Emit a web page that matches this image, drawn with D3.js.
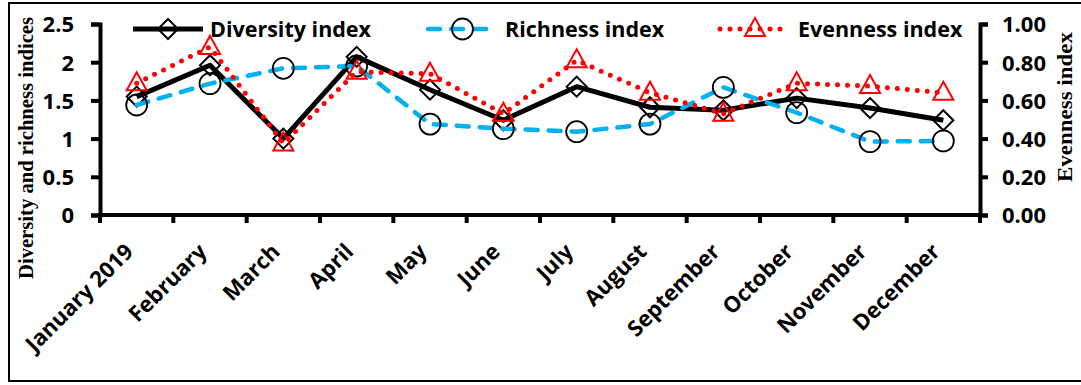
<!DOCTYPE html>
<html>
<head>
<meta charset="utf-8">
<script src="https://cdn.jsdelivr.net/npm/d3@7"></script>
<style>
  html, body { margin: 0; padding: 0; background: #fff; }
  svg { display: block; }
</style>
</head>
<body>
<svg id="chart" width="1081" height="385"></svg>
<script>
// Monthly indices, 2019
const months = ["January 2019", "February", "March", "April", "May", "June",
                "July", "August", "September", "October", "November", "December"];
const diversity = [1.55, 1.96, 1.00, 2.07, 1.64, 1.24, 1.68, 1.41, 1.37, 1.53, 1.40, 1.24];
const richness  = [1.44, 1.72, 1.92, 1.95, 1.19, 1.13, 1.09, 1.19, 1.67, 1.34, 0.96, 0.97];
const evenness  = [0.69, 0.88, 0.375, 0.75, 0.74, 0.53, 0.81, 0.64, 0.53, 0.69, 0.675, 0.64];
const leftTicks  = [0, 0.5, 1, 1.5, 2, 2.5];
const rightTicks = [0, 0.2, 0.4, 0.6, 0.8, 1.0];

const svg = d3.select("#chart");
const plot = { left: 100, right: 980, top: 24, bottom: 215 };
const sans = "'Open Sans', 'Noto Sans', sans-serif";
const serif = "'Liberation Serif', 'Times New Roman', serif";

// outer frame
svg.append("rect")
  .attr("x", 9).attr("y", 3).attr("width", 1085).attr("height", 378)
  .attr("fill", "none").attr("stroke", "#000").attr("stroke-width", 2);

const x = d3.scaleBand().domain(months).range([plot.left, plot.right]).padding(0);
const yL = d3.scaleLinear().domain([0, 2.5]).range([plot.bottom, plot.top]);
const yR = d3.scaleLinear().domain([0, 1]).range([plot.bottom, plot.top]);
const cx = m => x(m) + x.bandwidth() / 2;

const axisStyle = g => {
  g.selectAll(".domain").attr("stroke", "#000").attr("stroke-width", 4);
  g.selectAll(".tick line").attr("stroke", "#000").attr("stroke-width", 4);
};

// x axis: ticks at band boundaries, labels at band centres
const xg = svg.append("g").attr("transform", `translate(0,${plot.bottom})`);
xg.append("line")
  .attr("x1", plot.left - 2).attr("x2", plot.right + 2)
  .attr("stroke", "#000").attr("stroke-width", 4);
const bounds = months.map(m => x(m)).concat([plot.right]);
xg.selectAll("line.tk").data(bounds).join("line").attr("class", "tk")
  .attr("x1", d => d).attr("x2", d => d).attr("y1", 0).attr("y2", 8)
  .attr("stroke", "#000").attr("stroke-width", 4);
xg.selectAll("text").data(months).join("text")
  .attr("transform", d => `translate(${cx(d) - 2},${38}) rotate(-45)`)
  .attr("text-anchor", "end")
  .attr("font-family", sans).attr("font-weight", 700).attr("font-size", 22)
  .attr("fill", "#000")
  .text(d => d);

// left axis
const gl = svg.append("g").attr("transform", `translate(${plot.left},0)`)
  .call(d3.axisLeft(yL).tickValues(leftTicks).tickSize(9).tickSizeOuter(9)
        .tickPadding(17).tickFormat(d3.format("")));
axisStyle(gl);
gl.selectAll("text").attr("font-family", sans).attr("font-weight", 700)
  .attr("font-size", 22).attr("fill", "#000").attr("dy", "0.36em");

// right axis
const gr = svg.append("g").attr("transform", `translate(${plot.right},0)`)
  .call(d3.axisRight(yR).tickValues(rightTicks).tickSize(8).tickSizeOuter(8)
        .tickPadding(14).tickFormat(d3.format(".2f")));
axisStyle(gr);
gr.selectAll("text").attr("font-family", sans).attr("font-weight", 700)
  .attr("font-size", 22).attr("fill", "#000").attr("dy", "0.36em");

// axis titles
svg.append("text")
  .attr("transform", `translate(26,148) rotate(-90)`)
  .attr("text-anchor", "middle").attr("dy", "0.35em")
  .attr("font-family", serif).attr("font-weight", 700).attr("font-size", 21)
  .attr("textLength", 262).attr("lengthAdjust", "spacingAndGlyphs")
  .text("Diversity and richness indices");
svg.append("text")
  .attr("transform", `translate(1065,107) rotate(-90)`)
  .attr("text-anchor", "middle").attr("dy", "0.35em")
  .attr("font-family", serif).attr("font-weight", 700).attr("font-size", 21)
  .attr("textLength", 150).attr("lengthAdjust", "spacingAndGlyphs")
  .text("Evenness index");

// marker painters
const diamond = (g, px, py) => g.append("path")
  .attr("d", `M${px},${py - 10}L${px + 10},${py}L${px},${py + 10}L${px - 10},${py}Z`)
  .attr("fill", "none").attr("stroke", "#000").attr("stroke-width", 2);
const circle = (g, px, py) => g.append("circle")
  .attr("cx", px).attr("cy", py).attr("r", 10.5)
  .attr("fill", "none").attr("stroke", "#000").attr("stroke-width", 1.8);
const triangle = (g, px, py) => g.append("path")
  .attr("d", `M${px},${py - 11}L${px + 10},${py + 7}L${px - 10},${py + 7}Z`)
  .attr("fill", "none").attr("stroke", "#ff0000").attr("stroke-width", 2);

const series = [
  { name: "Diversity index", values: diversity, y: yL, color: "#000", width: 5, dash: null, cap: "butt", marker: diamond },
  { name: "Richness index",  values: richness,  y: yL, color: "#00b0f0", width: 4.5, dash: "12,11", cap: "round", marker: circle },
  { name: "Evenness index",  values: evenness,  y: yR, color: "#ff0000", width: 5, dash: "0,10", cap: "round", marker: triangle }
];

const plotG = svg.append("g");
series.forEach(s => {
  const line = d3.line().x((d, i) => cx(months[i])).y(d => s.y(d));
  plotG.append("path").datum(s.values)
    .attr("d", line)
    .attr("fill", "none").attr("stroke", s.color).attr("stroke-width", s.width)
    .attr("stroke-linecap", s.cap).attr("stroke-linejoin", "round")
    .attr("stroke-dasharray", s.dash);
  s.values.forEach((v, i) => s.marker(plotG, cx(months[i]), s.y(v)));
});

// legend
const legendPos = [
  { x0: 133, x1: 203, tx: 210 },
  { x0: 428, x1: 497, tx: 505 },
  { x0: 720, x1: 790, tx: 798 }
];
const ly = 29;
series.forEach((s, i) => {
  const p = legendPos[i];
  const g = svg.append("g");
  g.append("line").attr("x1", p.x0).attr("x2", p.x1).attr("y1", ly).attr("y2", ly)
    .attr("stroke", s.color).attr("stroke-width", s.width)
    .attr("stroke-linecap", s.cap).attr("stroke-dasharray", s.dash);
  s.marker(g, (p.x0 + p.x1) / 2, ly);
  g.append("text").attr("x", p.tx).attr("y", ly).attr("dy", "0.36em")
    .attr("font-family", sans).attr("font-weight", 700).attr("font-size", 21.5)
    .attr("fill", "#000").text(s.name);
});
</script>
</body>
</html>
